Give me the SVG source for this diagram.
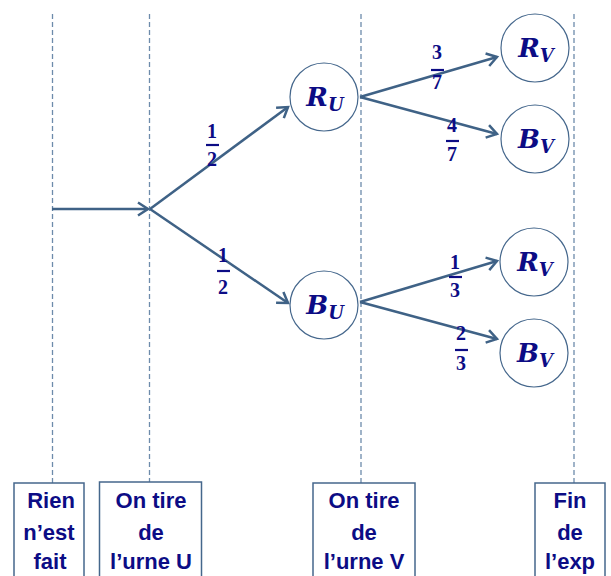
<svg xmlns="http://www.w3.org/2000/svg" width="611" height="576" viewBox="0 0 611 576">
<style>
.guide{stroke:#6d8bab;stroke-width:1.3;stroke-dasharray:5,3;fill:none}
.edge{stroke:#3f6286;stroke-width:2.5;fill:none}
.node circle{fill:#fff;stroke:#45678c;stroke-width:1.2}
.nl{font-family:"DejaVu Serif",serif;font-weight:bold;font-style:italic;font-size:26px;fill:#0c0c85;text-anchor:middle}
.nl .sub{font-size:18px}
.frac{font-family:"Liberation Serif",serif;font-weight:bold;font-size:20px;fill:#0c0c85;text-anchor:middle}
.bar{stroke:#0c0c85;stroke-width:2.2}
.box rect{fill:#fff;stroke:#45678c;stroke-width:1.5}
.box text{font-family:"Liberation Sans",Arial,sans-serif;font-weight:bold;font-size:22px;fill:#0c0c85;text-anchor:middle}
</style>
<defs>
<marker id="arr" markerUnits="userSpaceOnUse" markerWidth="20" markerHeight="20" viewBox="-12 -10 14 20" refX="0" refY="0" orient="auto">
<path d="M-10,-6.5 L0,0 L-10,6.5" fill="none" stroke="#3f6286" stroke-width="2.5"/>
</marker>
</defs>
<rect width="611" height="576" fill="#fff"/>
<g id="guides">
<line class="guide" x1="52.5" y1="14" x2="52.5" y2="483"/>
<line class="guide" x1="149.5" y1="14" x2="149.5" y2="482"/>
<line class="guide" x1="361" y1="14" x2="361" y2="483"/>
<line class="guide" x1="574" y1="14" x2="574" y2="483"/>
</g>
<g id="connectors">
<line class="edge" x1="52" y1="209" x2="148" y2="209" marker-end="url(#arr)"/>
<line class="edge" x1="150" y1="209" x2="288" y2="107" marker-end="url(#arr)"/>
<line class="edge" x1="150" y1="209" x2="288" y2="303" marker-end="url(#arr)"/>
<line class="edge" x1="360" y1="97" x2="497" y2="57" marker-end="url(#arr)"/>
<line class="edge" x1="360" y1="97" x2="497" y2="134" marker-end="url(#arr)"/>
<line class="edge" x1="360" y1="302" x2="497" y2="261" marker-end="url(#arr)"/>
<line class="edge" x1="360" y1="302" x2="497" y2="339" marker-end="url(#arr)"/>
</g>
<g id="labels">
<text class="frac" x="212" y="138">1</text><line class="bar" x1="206" y1="145" x2="219" y2="145"/><text class="frac" x="212" y="166">2</text>
<text class="frac" x="223" y="262">1</text><line class="bar" x1="217" y1="271" x2="230" y2="271"/><text class="frac" x="223" y="294">2</text>
<text class="frac" x="437" y="59">3</text><line class="bar" x1="431" y1="70" x2="444" y2="70"/><text class="frac" x="437" y="89">7</text>
<text class="frac" x="452" y="132">4</text><line class="bar" x1="446" y1="141" x2="459" y2="141"/><text class="frac" x="452" y="161">7</text>
<text class="frac" x="455" y="269">1</text><line class="bar" x1="449" y1="277" x2="462" y2="277"/><text class="frac" x="455" y="297">3</text>
<text class="frac" x="461" y="340">2</text><line class="bar" x1="455" y1="350" x2="468" y2="350"/><text class="frac" x="461" y="370">3</text>
</g>
<g id="RU" class="node"><circle cx="324" cy="97" r="34"/><text class="nl" x="325" y="106">R<tspan class="sub" dy="5">U</tspan></text></g>
<g id="BU" class="node"><circle cx="324" cy="305" r="34"/><text class="nl" x="325" y="314">B<tspan class="sub" dy="5">U</tspan></text></g>
<g id="RV1" class="node"><circle cx="535" cy="48" r="34"/><text class="nl" x="536" y="57">R<tspan class="sub" dy="5">V</tspan></text></g>
<g id="BV1" class="node"><circle cx="535" cy="139" r="34"/><text class="nl" x="536" y="148">B<tspan class="sub" dy="5">V</tspan></text></g>
<g id="RV2" class="node"><circle cx="534" cy="262" r="34"/><text class="nl" x="535" y="271">R<tspan class="sub" dy="5">V</tspan></text></g>
<g id="BV2" class="node"><circle cx="534" cy="353" r="34"/><text class="nl" x="535" y="362">B<tspan class="sub" dy="5">V</tspan></text></g>
<g id="box1" class="box"><rect x="14" y="483" width="70" height="100"/><text x="51" y="508">Rien</text><text x="49" y="540">n’est</text><text x="50" y="569">fait</text></g>
<g id="box2" class="box"><rect x="99.5" y="482" width="102" height="100"/><text x="151" y="508">On tire</text><text x="151" y="540">de</text><text x="151" y="569">l’urne U</text></g>
<g id="box3" class="box"><rect x="313" y="483" width="102" height="100"/><text x="364" y="508">On tire</text><text x="364" y="540">de</text><text x="364" y="569">l’urne V</text></g>
<g id="box4" class="box"><rect x="535" y="483" width="70" height="100"/><text x="570" y="508">Fin</text><text x="570" y="540">de</text><text x="570" y="569">l’exp</text></g>
</svg>
